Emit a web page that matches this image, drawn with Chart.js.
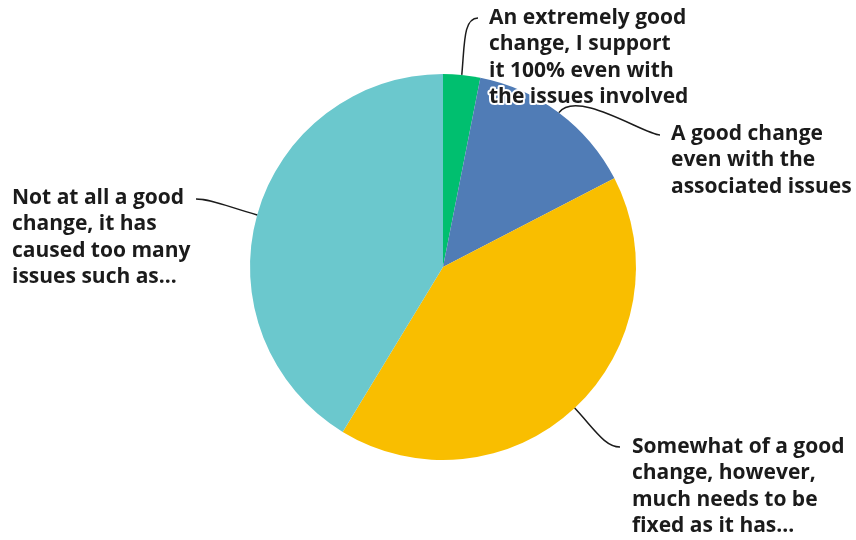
<!DOCTYPE html>
<html lang="en">
<head>
    <meta charset="UTF-8">
    <title>Pie</title>
    <script src="https://cdn.jsdelivr.net/npm/chart.js@4.4.1/dist/chart.umd.min.js"></script>
    <style>
        body { margin: 0; background: #fff; }
        #wrap { width: 856px; height: 540px; }
    </style>
</head>
<body>
    <div id="wrap"><canvas id="pie"></canvas></div>

<script>
    // answer categories and their share (%)
    const categories = [
        'An extremely good change, I support it 100% even with the issues involved',
        'A good change even with the associated issues',
        'Somewhat of a good change, however, much needs to be fixed as it has...',
        'Not at all a good change, it has caused too many issues such as...'
    ];
    const labelLines = [
        ['An extremely good', 'change, I support', 'it 100% even with', 'the issues involved'],
        ['A good change', 'even with the', 'associated issues'],
        ['Somewhat of a good', 'change, however,', 'much needs to be', 'fixed as it has...'],
        ['Not at all a good', 'change, it has', 'caused too many', 'issues such as...']
    ];
    const values = [3.1, 14.3, 41.3, 41.3];
    const colors = ['#00BF6F', '#507CB6', '#F9BE00', '#6BC8CD'];

    // where each label sits and where its leader line ends
    const labelSpots = [
        { tx: 489, ty: 18, ex: 478, ey: 18, side: 1 },
        { tx: 671, ty: 134, ex: 660, ey: 135, side: 1 },
        { tx: 632, ty: 447, ex: 620, ey: 447, side: 1 },
        { tx: 12, ty: 198, ex: 196, ey: 199, side: -1 }
    ];

    const calloutPlugin = {
        id: 'callouts',
        afterDraw(chart) {
            const ctx = chart.ctx;
            const arcs = chart.getDatasetMeta(0).data;
            ctx.save();
            // leader lines
            ctx.strokeStyle = '#1b1b1b';
            ctx.lineWidth = 1.5;
            arcs.forEach((arc, i) => {
                const s = labelSpots[i];
                const mid = (arc.startAngle + arc.endAngle) / 2;
                const r = arc.outerRadius;
                const x0 = arc.x + Math.cos(mid) * r;
                const y0 = arc.y + Math.sin(mid) * r;
                const c1x = x0 + Math.cos(mid) * 30;
                const c1y = y0 + Math.sin(mid) * 30;
                const c2x = s.ex - s.side * 15;
                ctx.beginPath();
                ctx.moveTo(x0, y0);
                ctx.bezierCurveTo(c1x, c1y, c2x, s.ey, s.ex, s.ey);
                ctx.stroke();
            });
            // labels with white halo
            ctx.font = '700 21px "Open Sans"';
            ctx.textBaseline = 'middle';
            ctx.textAlign = 'left';
            ctx.lineJoin = 'round';
            labelLines.forEach((lines, i) => {
                const s = labelSpots[i];
                lines.forEach((t, j) => {
                    const y = s.ty + j * 26.5;
                    ctx.strokeStyle = '#fff';
                    ctx.lineWidth = 4;
                    ctx.strokeText(t, s.tx, y);
                    ctx.fillStyle = '#1b1b1b';
                    ctx.fillText(t, s.tx, y);
                });
            });
            ctx.restore();
        }
    };

    new Chart(document.getElementById('pie'), {
        type: 'pie',
        data: {
            labels: categories,
            datasets: [{
                data: values,
                backgroundColor: colors,
                borderWidth: 0
            }]
        },
        options: {
            responsive: true,
            maintainAspectRatio: false,
            animation: false,
            layout: { padding: { left: 250, right: 220, top: 74, bottom: 80 } },
            plugins: {
                legend: { display: false },
                tooltip: { enabled: false }
            }
        },
        plugins: [calloutPlugin]
    });
</script>
</body>
</html>
